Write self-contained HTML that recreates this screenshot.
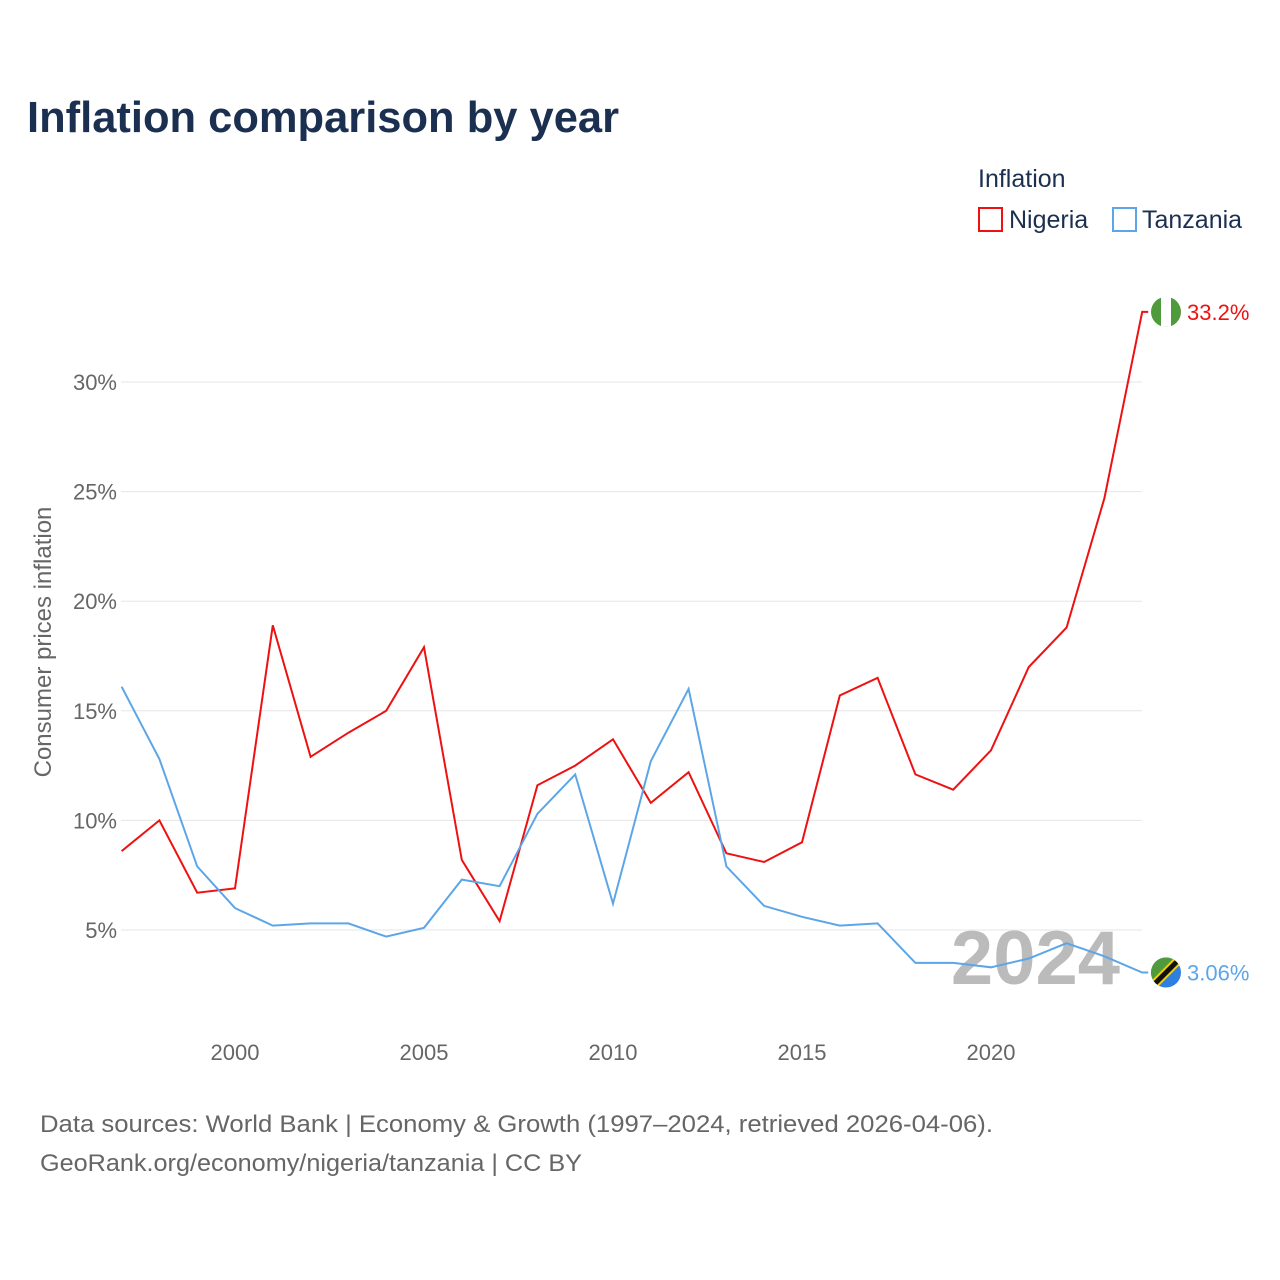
<!DOCTYPE html>
<html><head><meta charset="utf-8"><style>
body{margin:0;background:#fff;font-family:"Liberation Sans",sans-serif;}
#wrap{position:relative;width:1280px;height:1280px;overflow:hidden;}
</style></head><body>
<div id="wrap">
<svg id="chart" width="1280" height="1280" font-family="Liberation Sans, sans-serif">
<text x="27" y="132" font-size="44" font-weight="bold" fill="#1b3050" textLength="592" lengthAdjust="spacingAndGlyphs">Inflation comparison by year</text>
<text x="978" y="187" font-size="25" fill="#1b3050">Inflation</text>
<g><rect x="979" y="208" width="23" height="23" fill="none" stroke="#ee1111" stroke-width="2"/><text x="1009" y="228" font-size="25" fill="#1b3050">Nigeria</text></g>
<g><rect x="1113" y="208" width="23" height="23" fill="none" stroke="#5ca6e8" stroke-width="2"/><text x="1142" y="228" font-size="25" fill="#1b3050">Tanzania</text></g>
<text transform="translate(51,642) rotate(-90)" text-anchor="middle" font-size="24" fill="#666">Consumer prices inflation</text>
<g id="grid"></g><g id="yt"></g><g id="xt"></g>
<text x="1120" y="984" text-anchor="end" font-size="76" font-weight="bold" fill="#bbb">2024</text>
<g id="lines"></g>
<text x="40" y="1132" font-size="24" fill="#666" textLength="953" lengthAdjust="spacingAndGlyphs">Data sources: World Bank | Economy &amp; Growth (1997–2024, retrieved 2026-04-06).</text>
<text x="40" y="1171" font-size="24" fill="#666" textLength="542" lengthAdjust="spacingAndGlyphs">GeoRank.org/economy/nigeria/tanzania | CC BY</text>
</svg></div>
<script>
const years=[1997,1998,1999,2000,2001,2002,2003,2004,2005,2006,2007,2008,2009,2010,2011,2012,2013,2014,2015,2016,2017,2018,2019,2020,2021,2022,2023,2024];
const nigeria=[8.6,10.0,6.7,6.9,18.9,12.9,14.0,15.0,17.9,8.2,5.4,11.6,12.5,13.7,10.8,12.2,8.5,8.1,9.0,15.7,16.5,12.1,11.4,13.2,17.0,18.8,24.7,33.2];
const tanzania=[16.1,12.8,7.9,6.0,5.2,5.3,5.3,4.7,5.1,7.3,7.0,10.3,12.1,6.2,12.7,16.0,7.9,6.1,5.6,5.2,5.3,3.5,3.5,3.3,3.7,4.4,3.8,3.06];
const yTicks=[5,10,15,20,25,30];
const xTicks=[2000,2005,2010,2015,2020];
const NS="http://www.w3.org/2000/svg";
const x=v=>121.6+(v-1997)*37.8;
const y=v=>1039.6-v*21.92;
function mk(t,a,p){const e=document.createElementNS(NS,t);for(const k in a)e.setAttribute(k,a[k]);p.appendChild(e);return e;}
const grid=document.getElementById('grid'),yt=document.getElementById('yt'),xt=document.getElementById('xt'),lines=document.getElementById('lines');
yTicks.forEach(v=>{
 const l=mk('line',{x1:121,x2:1142,y1:y(v),y2:y(v),stroke:'#e6e6e6','stroke-width':1},grid);
 
 
 const t=mk('text',{x:117,y:y(v)+8,'text-anchor':'end','font-size':22,fill:'#666'},yt);
 t.textContent=v+'%';
 
 
});
xTicks.forEach(v=>{
 const t=mk('text',{x:x(v),y:1060,'text-anchor':'middle','font-size':22,fill:'#666'},xt);
 t.textContent=v;
 
 
});
function series(vals,color,name,label){
 const d=vals.map((v,i)=>(i?'L':'M')+x(years[i]).toFixed(1)+','+y(v).toFixed(1)).join('')+'H'+(x(2024)+6);
 const p=mk('path',{d:d,fill:'none',stroke:color,'stroke-width':2},lines);
 
 
 const last=vals[vals.length-1];
 const t=mk('text',{x:1187,y:y(last)+8,'font-size':22,fill:color},lines);
 t.textContent=label;
 
 
 return y(last);
}
const ny=series(nigeria,'#ee1111','nigeria','33.2%');
const ty=series(tanzania,'#5ca6e8','tanzania','3.06%');
const fn=mk('g',{},lines);


mk('circle',{cx:1166,cy:ny,r:15,fill:'#4f9a3a'},fn);
mk('rect',{x:1161,y:ny-15,width:10,height:30,fill:'#fff'},fn);
const ft=mk('g',{},lines);


mk('clipPath',{id:'tc'},ft);
mk('circle',{cx:1166,cy:ty,r:15},document.getElementById('tc'));
const tg=mk('g',{'clip-path':'url(#tc)'},ft);
mk('rect',{x:1151,y:ty-15,width:30,height:30,fill:'#2f7fe0'},tg);
mk('polygon',{points:`1151,${ty-15} 1181,${ty-15} 1151,${ty+15}`,fill:'#4f9a3a'},tg);
mk('line',{x1:1151,y1:ty+15,x2:1181,y2:ty-15,stroke:'#f5d000','stroke-width':9},tg);
mk('line',{x1:1151,y1:ty+15,x2:1181,y2:ty-15,stroke:'#111','stroke-width':5},tg);
</script>
</body></html>
